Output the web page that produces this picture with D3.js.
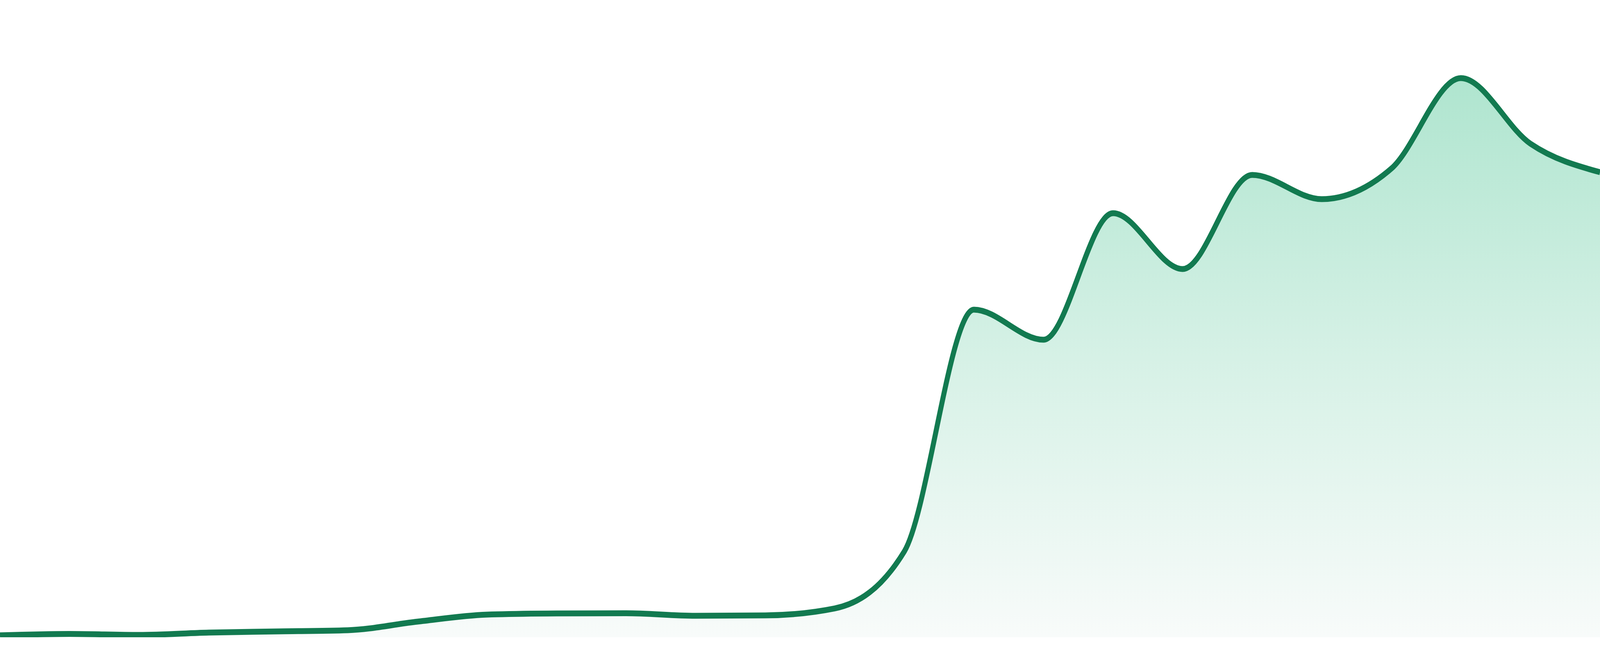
<!DOCTYPE html>
<html>
<head>
<meta charset="utf-8">
<script src="https://cdn.jsdelivr.net/npm/d3@7"></script>
<style>
  html, body { margin: 0; padding: 0; background: #ffffff; width: 100%; height: 100%; overflow: hidden; }
  svg { display: block; }
</style>
</head>
<body>
<script>
// sparkline data, one value per period
const periods = [0, 1, 2, 3, 4, 5, 6, 7, 8, 9, 10, 11, 12, 13, 14, 15, 16, 17, 18, 19, 20, 21, 22, 23];
const values = [0.9, 1.15, 0.97, 1.39, 1.6, 1.81, 3.33, 4.58, 4.79, 4.83, 4.38, 4.44,
                5.69, 15.83, 58.82, 53.47, 75.97, 66.04, 82.78, 78.47, 83.9, 100.0, 88.33, 83.26];
const yDomain = [0, 100];

// drawing is done in a 4800x1680 box and stretched to the window
const width = 4800, height = 1680;
const plotBottom = 1632;
const topY = 200, baseY = 1640;

const data = periods.map((p, i) => ({p: p, v: values[i]}));

const svg = d3.select('body').append('svg')
    .attr('width', '100%')
    .attr('height', '100%')
    .attr('viewBox', `0 0 ${width} ${height}`)
    .attr('preserveAspectRatio', 'none');

const x = d3.scaleLinear().domain(d3.extent(periods)).range([0, width]);
const y = d3.scaleLinear().domain(yDomain).range([baseY, topY]);

const defs = svg.append('defs');

defs.append('clipPath').attr('id', 'plot')
  .append('rect')
    .attr('x', 0).attr('y', 0)
    .attr('width', width).attr('height', plotBottom);

// soft green fade under the line
const grad = defs.append('linearGradient')
    .attr('id', 'fade')
    .attr('gradientUnits', 'userSpaceOnUse')
    .attr('x1', 0).attr('x2', 0)
    .attr('y1', topY).attr('y2', plotBottom);
grad.append('stop').attr('offset', '0%').attr('stop-color', '#afe5cf');
grad.append('stop').attr('offset', '50%').attr('stop-color', '#d6f1e6');
grad.append('stop').attr('offset', '100%').attr('stop-color', '#f8fbfa');

const area = d3.area()
    .x(d => x(d.p))
    .y0(plotBottom)
    .y1(d => y(d.v))
    .curve(d3.curveMonotoneX);

const line = d3.line()
    .x(d => x(d.p))
    .y(d => y(d.v))
    .curve(d3.curveMonotoneX);

const g = svg.append('g').attr('clip-path', 'url(#plot)');

g.append('path')
    .datum(data)
    .attr('d', area)
    .attr('fill', 'url(#fade)');

g.append('path')
    .datum(data)
    .attr('d', line)
    .attr('fill', 'none')
    .attr('stroke', '#127a50')
    .attr('stroke-width', 15);
</script>
</body>
</html>
